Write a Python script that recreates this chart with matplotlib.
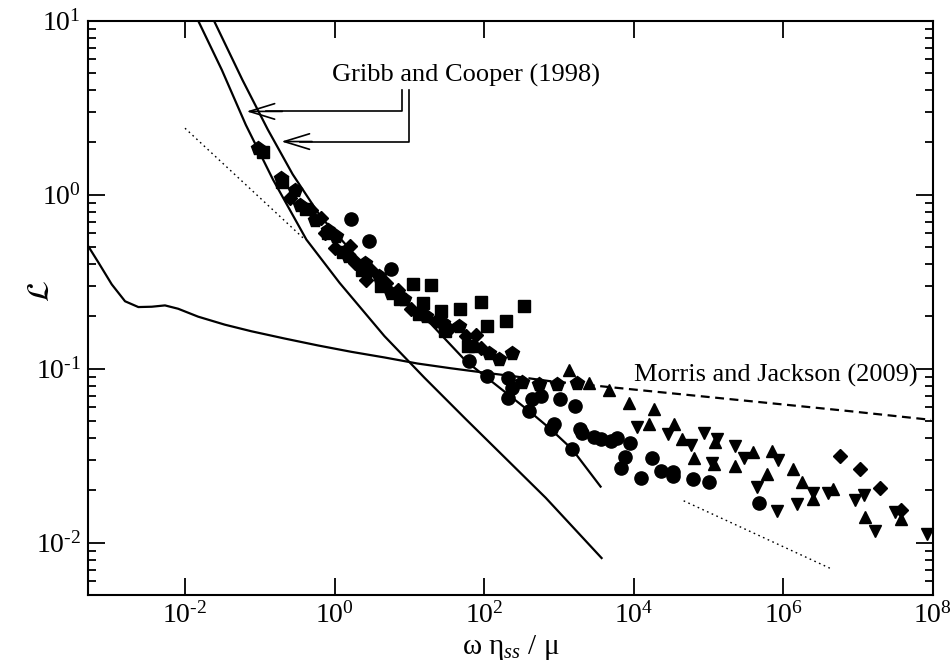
import numpy as np
import matplotlib.pyplot as plt
from matplotlib.ticker import FixedLocator, FuncFormatter, LogLocator, NullLocator

plt.rcParams['font.family'] = 'Liberation Serif'
plt.rcParams['mathtext.fontset'] = 'custom'
plt.rcParams['mathtext.rm'] = 'Liberation Serif'
plt.rcParams['mathtext.it'] = 'Liberation Serif:italic'
plt.rcParams['axes.unicode_minus'] = False
plt.rcParams['axes.linewidth'] = 1.5

# Morris and Jackson (2009): solid part, then dashed extension
mj_x = [5.1e-4, 7.0e-4, 1.05e-3, 1.58e-3, 2.38e-3, 3.6e-3, 5.4e-3, 8.1e-3,
        0.0150, 0.0341, 0.0774, 0.215, 0.598, 1.67, 4.64, 12.9, 36.0, 100, 251]
mj_y = [0.505, 0.406, 0.305, 0.244, 0.226, 0.227, 0.231, 0.221,
        0.199, 0.179, 0.164, 0.149, 0.136, 0.125, 0.116, 0.107, 0.1005, 0.0949, 0.0904]
mj_dash_x = [251, 736, 1.58e4, 3.41e5, 7.36e6, 9.4e7]
mj_dash_y = [0.0904, 0.0849, 0.0744, 0.0652, 0.0571, 0.0508]

# Gribb and Cooper (1998): two model curves
gc1_x = [0.0132, 0.0150, 0.0311, 0.065, 0.1504, 0.4197, 1.166, 4.64, 15.85, 57.0, 665, 3710]
gc1_y = [11.5, 10.0, 5.21, 2.52, 1.219, 0.552, 0.3113, 0.1538, 0.0888, 0.0512, 0.0181, 0.00816]
gc2_x = [0.0206, 0.0244, 0.0587, 0.1278, 0.275, 0.648, 1.97, 6.8, 19.6, 57.0, 398, 774, 1503, 3597]
gc2_y = [11.5, 10.0, 4.56, 2.37, 1.31, 0.75, 0.44, 0.266, 0.18, 0.1105, 0.0571, 0.0449, 0.0344, 0.0210]

# dotted reference slopes
dot1_x = [0.01, 0.378]
dot1_y = [2.41, 0.565]
dot2_x = [4.64e4, 4.4e6]
dot2_y = [0.0174, 0.00706]

# measurements
circ_x = [1.67, 2.87, 5.70, 63.1, 110.7, 211, 238, 211, 398, 441, 570, 1040, 1648, 774, 858,
          1503, 1923, 2008, 2929, 3597, 4887, 5984, 9035, 7745, 6650, 12670, 17540, 23100,
          33100, 33100, 61200, 1.0e5, 4.79e5]
circ_y = [0.726, 0.542, 0.373, 0.1106, 0.0907, 0.0888, 0.0778, 0.0682, 0.0571, 0.0673, 0.0697,
          0.0673, 0.0614, 0.0449, 0.0479, 0.0344, 0.0449, 0.0426, 0.0407, 0.0393, 0.0384, 0.0397,
          0.0372, 0.0310, 0.0267, 0.0235, 0.0305, 0.0257, 0.0255, 0.0242, 0.0232, 0.0223, 0.0170]

sq_x = [0.1107, 11.07, 19.45, 90.3, 341, 47.9, 26.5, 15.0, 194.5, 110.7,
        0.2, 0.41, 0.82, 1.3, 2.3, 4.2, 7.5, 13.6, 30.0, 60.0]
sq_y = [1.75, 0.305, 0.301, 0.241, 0.2286, 0.221, 0.214, 0.237, 0.1875, 0.177,
        1.18, 0.83, 0.60, 0.47, 0.37, 0.30, 0.25, 0.205, 0.165, 0.135]

pent_x = [0.0949, 0.1945, 0.293, 0.341, 0.541, 0.814, 1.054, 1.504, 2.512, 3.98, 5.70, 8.58,
          16.7, 27.8, 46.4, 69.9, 116.6, 158, 238, 324, 541, 949, 1754]
pent_y = [1.854, 1.247, 1.068, 0.876, 0.719, 0.630, 0.576, 0.4426, 0.4055, 0.34, 0.273, 0.250,
          0.200, 0.1834, 0.1754, 0.1349, 0.1235, 0.114, 0.1224, 0.0835, 0.0817, 0.0817, 0.0828]

diam_x = [0.251, 0.489, 0.665, 0.736, 1.0, 1.585, 1.848, 2.648, 3.083, 4.887, 6.98, 10.54,
          22.7, 34.1, 57.0, 77.5, 90.3, 5.70e6, 1.05e7, 1.95e7, 3.78e7]
diam_y = [0.957, 0.820, 0.735, 0.603, 0.4945, 0.505, 0.4055, 0.325, 0.3715, 0.311, 0.285, 0.219,
          0.1875, 0.168, 0.1537, 0.157, 0.132, 0.0315, 0.0264, 0.0205, 0.0154]

tri_x = [1380, 2495, 4710, 8710, 18490, 15850, 34150, 44100, 63100, 1.227e5, 1.166e5, 2.268e5,
         3.981e5, 5.984e5, 7.136e5, 1.36e6, 1.79e6, 2.51e6, 4.64e6, 1.23e7, 3.71e7]
tri_y = [0.0982, 0.083, 0.0753, 0.0632, 0.0584, 0.0479, 0.0479, 0.0396, 0.0308, 0.0379, 0.0282,
         0.0276, 0.033, 0.0248, 0.0337, 0.0264, 0.0222, 0.0178, 0.0203, 0.0141, 0.0136]

tdown_x = [11070, 28640, 58700, 85800, 1.29e5, 1.108e5, 2.268e5, 2.93e5, 4.406e5, 8.577e5,
           8.147e5, 1.50e6, 2.51e6, 3.98e6, 9.03e6, 1.20e7, 1.67e7, 3.08e7, 8.4e7]
tdown_y = [0.0464, 0.042, 0.0363, 0.0426, 0.0393, 0.0288, 0.0357, 0.0305, 0.0208, 0.0298,
           0.0152, 0.0167, 0.0194, 0.0192, 0.0177, 0.0188, 0.0117, 0.0151, 0.0112]


def pow10(v, pos):
    e = int(round(np.log10(v)))
    s = str(e).replace('-', r'\text{-}')
    return r'$\mathdefault{10^{%s}}$' % s


fig = plt.figure(figsize=(9.53, 6.61), dpi=100)
ax = fig.add_axes([0.092, 0.0998, 0.887, 0.8689])

ax.plot(mj_x, mj_y, color='black', lw=1.6)
ax.plot(mj_dash_x, mj_dash_y, color='black', lw=1.6, ls=(0, (4, 2.5)))
ax.plot(gc1_x, gc1_y, color='black', lw=1.6)
ax.plot(gc2_x, gc2_y, color='black', lw=1.6)
ax.plot(dot1_x, dot1_y, color='black', lw=1.0, ls=(0, (1.2, 2.5)))
ax.plot(dot2_x, dot2_y, color='black', lw=1.0, ls=(0, (1.2, 2.5)))

mk = dict(ls='none', color='black', mec='black', clip_on=False)
ax.plot(sq_x, sq_y, marker='s', ms=8.5, **mk)
ax.plot(pent_x, pent_y, marker='p', ms=10, **mk)
ax.plot(diam_x, diam_y, marker='D', ms=7, **mk)
ax.plot(circ_x, circ_y, marker='o', ms=9.5, **mk)
ax.plot(tri_x, tri_y, marker='^', ms=9, **mk)
ax.plot(tdown_x, tdown_y, marker='v', ms=9, **mk)

# annotations
ax.text(57.5, 4.87, 'Gribb and Cooper (1998)', fontsize=19, ha='center', va='center')
ax.plot([7.89, 7.89, 0.12], [4.0, 3.01, 3.01], color='black', lw=1.2)
ax.plot([9.8, 9.8, 0.35], [4.0, 2.02, 2.02], color='black', lw=1.2)
arrow = dict(arrowstyle='->,head_length=1.3,head_width=0.4', color='black', lw=1.2,
             shrinkA=0, shrinkB=0, mutation_scale=14)
ax.annotate('', xy=(0.0665, 3.01), xytext=(0.2, 3.01), arrowprops=arrow)
ax.annotate('', xy=(0.1945, 2.02), xytext=(0.5, 2.02), arrowprops=arrow)
ax.text(6.3e7, 0.0915, 'Morris and Jackson (2009)', fontsize=19, ha='right', va='center')

ax.set_xscale('log')
ax.set_yscale('log')
ax.set_xlim(5e-4, 1e8)
ax.set_ylim(5e-3, 10)

ax.xaxis.set_major_locator(FixedLocator([1e-2, 1, 1e2, 1e4, 1e6, 1e8]))
ax.xaxis.set_major_formatter(FuncFormatter(pow10))
ax.xaxis.set_minor_locator(NullLocator())
ax.yaxis.set_major_locator(FixedLocator([1e-2, 1e-1, 1, 10]))
ax.yaxis.set_major_formatter(FuncFormatter(pow10))
ax.yaxis.set_minor_locator(LogLocator(base=10, subs=np.arange(2, 10)))
ax.yaxis.set_minor_formatter(FuncFormatter(lambda v, pos: ''))
ax.tick_params(which='both', direction='in', top=True, right=True, labelsize=20, width=1.3)
ax.tick_params(which='major', length=12, pad=5)
ax.tick_params(which='minor', length=6)

ax.set_xlabel(r'ω η$_{ss}$ / μ', fontsize=21, labelpad=3)
ax.set_ylabel(r'$\mathcal{L}$', fontsize=22, math_fontfamily='stix')
ax.yaxis.set_label_coords(-0.037, 0.53)

fig.savefig('out.png', dpi=100)
